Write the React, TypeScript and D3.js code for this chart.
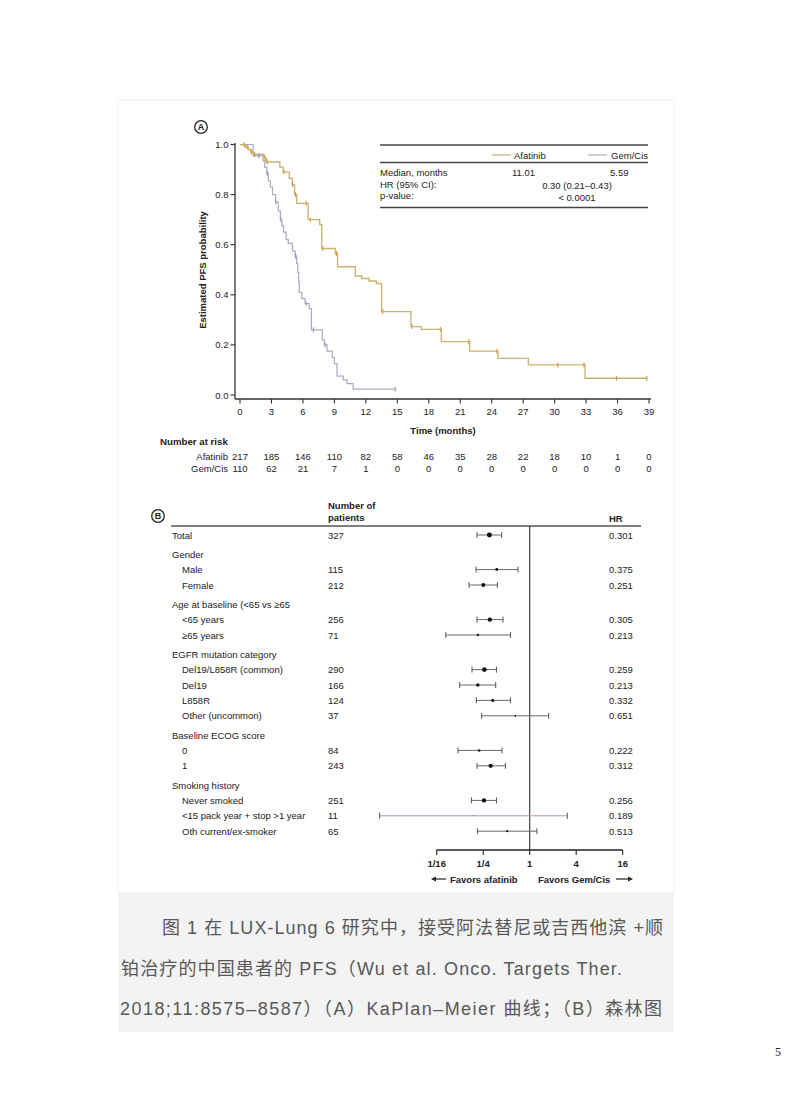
import React from 'react';
import * as d3 from 'd3';

// ---------- Panel A: Kaplan–Meier data ----------
const kmTicksX = [0, 3, 6, 9, 12, 15, 18, 21, 24, 27, 30, 33, 36, 39];
const kmTicksY = [0, 0.2, 0.4, 0.6, 0.8, 1.0];

const afatinibTimes = [0, 0.5, 0.8, 1.0, 1.3, 2.3, 2.5, 3.8, 4.1, 4.7, 5.0, 5.2, 5.4, 6.5, 7.6, 7.8, 9.1, 9.3, 11.0, 11.6, 12.3, 13.0, 13.5, 16.3, 17.3, 19.2, 21.9, 24.6, 27.5, 32.9];
const afatinibSurv = [1, 0.99, 0.98, 0.97, 0.96, 0.945, 0.93, 0.91, 0.89, 0.865, 0.84, 0.8, 0.765, 0.7, 0.68, 0.585, 0.565, 0.512, 0.475, 0.465, 0.455, 0.445, 0.333, 0.273, 0.262, 0.213, 0.175, 0.146, 0.12, 0.067];
const afatinibEnd = 38.8;
const afatinibCensor = [0.4, 0.7, 1.1, 1.4, 2.4, 2.6, 4.2, 5.0, 5.3, 6.3, 6.7, 7.9, 9.2, 13.6, 16.4, 19.1, 21.8, 24.5, 30.3, 32.8, 35.9, 38.8];

const gemTimes = [0, 1.25, 2.2, 2.35, 2.55, 2.7, 2.9, 3.1, 3.4, 3.65, 3.85, 4.0, 4.15, 4.4, 4.6, 5.0, 5.25, 5.4, 5.5, 5.6, 5.65, 5.9, 6.2, 6.6, 6.8, 7.85, 8.05, 8.3, 8.8, 9.0, 9.25, 9.85, 10.2, 10.8];
const gemSurv = [1, 0.955, 0.935, 0.91, 0.885, 0.855, 0.83, 0.8, 0.77, 0.735, 0.7, 0.675, 0.65, 0.62, 0.605, 0.575, 0.555, 0.525, 0.49, 0.45, 0.41, 0.385, 0.365, 0.345, 0.26, 0.22, 0.2, 0.175, 0.15, 0.125, 0.075, 0.06, 0.045, 0.023];
const gemEnd = 14.8;
const gemCensor = [1.8, 2.6, 3.4, 3.9, 5.3, 6.3, 7.0, 8.1, 14.8];

const riskAfatinib = [217, 185, 146, 110, 82, 58, 46, 35, 28, 22, 18, 10, 1, 0];
const riskGem = [110, 62, 21, 7, 1, 0, 0, 0, 0, 0, 0, 0, 0, 0];

// ---------- Panel B: forest plot data ----------
const rowLabels = [
  'Total', 'Gender', 'Male', 'Female', 'Age at baseline (<65 vs ≥65', '<65 years', '≥65 years',
  'EGFR mutation category', 'Del19/L858R (common)', 'Del19', 'L858R', 'Other (uncommon)',
  'Baseline ECOG score', '0', '1', 'Smoking history', 'Never smoked', '<15 pack year + stop >1 year', 'Oth current/ex-smoker',
];
const rowIndent = [false, false, true, true, false, true, true, false, true, true, true, true, false, true, true, false, true, true, true];
const rowN = [327, null, 115, 212, null, 256, 71, null, 290, 166, 124, 37, null, 84, 243, null, 251, 11, 65];
const rowHR = [0.301, null, 0.375, 0.251, null, 0.305, 0.213, null, 0.259, 0.213, 0.332, 0.651, null, 0.222, 0.312, null, 0.256, 0.189, 0.513];
const rowLo = [0.208, null, 0.202, 0.164, null, 0.208, 0.082, null, 0.179, 0.124, 0.204, 0.239, null, 0.118, 0.208, null, 0.176, 0.0114, 0.21];
const rowHi = [0.434, null, 0.706, 0.381, null, 0.451, 0.563, null, 0.371, 0.363, 0.563, 1.76, null, 0.438, 0.485, null, 0.371, 3.07, 1.24];
const forestTicks = [1 / 16, 1 / 4, 1, 4, 16];
const forestTickLabels = ['1/16', '1/4', '1', '4', '16'];

const captionLines = [
  '图 1  在 LUX-Lung 6 研究中，接受阿法替尼或吉西他滨 +顺',
  '铂治疗的中国患者的  PFS（Wu et al. Onco. Targets Ther.',
  '2018;11:8575–8587）（A）KaPlan–Meier 曲线；（B）森林图',
];

const SANS = '"Liberation Sans", Arial, Helvetica, sans-serif';
const CAP = '"Liberation Sans", "Noto Sans CJK SC", sans-serif';
const AFA = '#c9b272';
const AFA_MARK = '#d99a45';
const GEM = '#a9aec6';

function stepValue(times: number[], surv: number[], t: number) {
  let v = surv[0];
  for (let i = 0; i < times.length; i++) if (times[i] <= t) v = surv[i];
  return v;
}

export default function App() {
  const x = d3.scaleLinear().domain([0, 39]).range([240, 649]);
  const y = d3.scaleLinear().domain([0, 1]).range([395, 144.5]);
  const line = d3
    .line<[number, number]>()
    .x((d) => x(d[0]))
    .y((d) => y(d[1]))
    .curve(d3.curveStepAfter);

  const afaPts: [number, number][] = afatinibTimes.map((t, i) => [t, afatinibSurv[i]] as [number, number]);
  afaPts.push([afatinibEnd, afatinibSurv[afatinibSurv.length - 1]]);
  const gemPts: [number, number][] = gemTimes.map((t, i) => [t, gemSurv[i]] as [number, number]);
  gemPts.push([gemEnd, gemSurv[gemSurv.length - 1]]);

  // forest
  const fx = d3.scaleLog().base(2).domain([1 / 16, 16]).range([436.7, 622.7]);
  const rowY: number[] = [];
  let cy = 535;
  rowLabels.forEach((_, i) => {
    if (i > 0) cy += 15.4 + (rowN[i] === null ? 3.8 : 0);
    rowY.push(cy);
  });
  const dotR = (n: number) => 0.138 * Math.sqrt(n);

  const capX = [162, 121, 120];
  const capW = [501, 501, 542];
  const capY = [934, 975, 1015];

  return (
    <svg
      width={792}
      height={1120}
      viewBox="0 0 792 1120"
      style={{ position: 'absolute', left: 0, top: 0, background: '#fff' }}
      fontFamily={SANS}
    >
      <rect x={0} y={0} width={792} height={1120} fill="#fff" />
      {/* figure frame & caption background */}
      <rect x={118} y={100} width={556} height={793} fill="none" stroke="#f1f1f1" strokeWidth={1} />
      <rect x={118} y={893} width={556} height={139} fill="#f3f3f3" />

      {/* ===== Panel A ===== */}
      <g>
        <circle cx={201} cy={127} r={6.3} fill="none" stroke="#222" strokeWidth={1.3} />
        <text x={201} y={127} textAnchor="middle" dominantBaseline="central" fontSize={9} fontWeight="bold" fill="#222">A</text>

        {/* axes */}
        <line x1={235} x2={235} y1={143} y2={399} stroke="#333" strokeWidth={1.3} />
        <line x1={235} x2={651} y1={399} y2={399} stroke="#333" strokeWidth={1.3} />
        {kmTicksY.map((v) => (
          <g key={'yt' + v}>
            <line x1={230.5} x2={235} y1={y(v)} y2={y(v)} stroke="#333" strokeWidth={1.1} />
            <text x={228.5} y={y(v)} textAnchor="end" dominantBaseline="central" fontSize={9.5} fill="#222">
              {v.toFixed(1)}
            </text>
          </g>
        ))}
        {kmTicksX.map((v) => (
          <g key={'xt' + v}>
            <line x1={x(v)} x2={x(v)} y1={399} y2={403.5} stroke="#333" strokeWidth={1.1} />
            <text x={x(v)} y={411.5} textAnchor="middle" dominantBaseline="central" fontSize={9.5} fill="#222">
              {v}
            </text>
          </g>
        ))}
        <text x={443} y={430} textAnchor="middle" dominantBaseline="central" fontSize={9.5} fontWeight="bold" fill="#222">
          Time (months)
        </text>
        <text
          transform={`translate(202,270) rotate(-90)`}
          textAnchor="middle"
          dominantBaseline="central"
          fontSize={9.5}
          fontWeight="bold"
          fill="#222"
        >
          Estimated PFS probability
        </text>

        {/* curves */}
        <path d={line(gemPts) || ''} fill="none" stroke={GEM} strokeWidth={1.25} />
        <path d={line(afaPts) || ''} fill="none" stroke={AFA} strokeWidth={1.35} />
        {gemCensor.map((t, i) => {
          const v = stepValue(gemTimes, gemSurv, t);
          return <line key={'gc' + i} x1={x(t)} x2={x(t)} y1={y(v) - 2.5} y2={y(v) + 2.5} stroke="#9098b4" strokeWidth={1} />;
        })}
        {afatinibCensor.map((t, i) => {
          const v = stepValue(afatinibTimes, afatinibSurv, t);
          return <line key={'ac' + i} x1={x(t)} x2={x(t)} y1={y(v) - 2.5} y2={y(v) + 2.5} stroke={AFA_MARK} strokeWidth={1.1} />;
        })}

        {/* legend box */}
        <line x1={380} x2={648} y1={145} y2={145} stroke="#444" strokeWidth={1.3} />
        <line x1={492} x2={511} y1={155} y2={155} stroke={AFA} strokeWidth={1.2} />
        <text x={514} y={155} dominantBaseline="central" fontSize={9.5} fill="#222">Afatinib</text>
        <line x1={588} x2={607} y1={155} y2={155} stroke={GEM} strokeWidth={1.2} />
        <text x={648} y={155} textAnchor="end" dominantBaseline="central" fontSize={9.5} fill="#222">Gem/Cis</text>
        <line x1={380} x2={648} y1={162.5} y2={162.5} stroke="#444" strokeWidth={1.3} />
        <text x={380} y={172.5} dominantBaseline="central" fontSize={9.5} fill="#222">Median, months</text>
        <text x={512} y={172} dominantBaseline="central" fontSize={9.5} fill="#222">11.01</text>
        <text x={610} y={172} dominantBaseline="central" fontSize={9.5} fill="#222">5.59</text>
        <text x={380} y={184} dominantBaseline="central" fontSize={9.5} fill="#222">HR (95% CI):</text>
        <text x={577} y={185} textAnchor="middle" dominantBaseline="central" fontSize={9.5} fill="#222">0.30 (0.21–0.43)</text>
        <text x={380} y={195.5} dominantBaseline="central" fontSize={9.5} fill="#222">p-value:</text>
        <text x={577} y={197} textAnchor="middle" dominantBaseline="central" fontSize={9.5} fill="#222">&lt; 0.0001</text>
        <line x1={380} x2={648} y1={207.5} y2={207.5} stroke="#444" strokeWidth={1.3} />

        {/* number at risk */}
        <text x={160} y={441} dominantBaseline="central" fontSize={9.7} fontWeight="bold" fill="#222">Number at risk</text>
        <text x={228} y={456} textAnchor="end" dominantBaseline="central" fontSize={9.5} fill="#222">Afatinib</text>
        <text x={228} y={468} textAnchor="end" dominantBaseline="central" fontSize={9.5} fill="#222">Gem/Cis</text>
        {kmTicksX.map((t, i) => (
          <g key={'r' + t}>
            <text x={x(t)} y={456} textAnchor="middle" dominantBaseline="central" fontSize={9.5} fill="#222">{riskAfatinib[i]}</text>
            <text x={x(t)} y={468} textAnchor="middle" dominantBaseline="central" fontSize={9.5} fill="#222">{riskGem[i]}</text>
          </g>
        ))}
      </g>

      {/* ===== Panel B ===== */}
      <g>
        <circle cx={158} cy={516} r={6.3} fill="none" stroke="#222" strokeWidth={1.3} />
        <text x={158} y={516} textAnchor="middle" dominantBaseline="central" fontSize={9} fontWeight="bold" fill="#222">B</text>
        <text x={328} y={505.5} dominantBaseline="central" fontSize={9.5} fontWeight="bold" fill="#222">Number of</text>
        <text x={328} y={517.5} dominantBaseline="central" fontSize={9.5} fontWeight="bold" fill="#222">patients</text>
        <text x={609} y={518} dominantBaseline="central" fontSize={9.5} fontWeight="bold" fill="#222">HR</text>
        <line x1={171} x2={641} y1={526} y2={526} stroke="#555" strokeWidth={1.5} />
        <line x1={fx(1)} x2={fx(1)} y1={526} y2={850} stroke="#333" strokeWidth={1.1} />

        {rowLabels.map((lab, i) => (
          <g key={'row' + i}>
            <text x={rowIndent[i] ? 182 : 172} y={rowY[i]} dominantBaseline="central" fontSize={9.5} fill="#222">{lab}</text>
            {rowN[i] !== null && (
              <text x={328} y={rowY[i]} dominantBaseline="central" fontSize={9.5} fill="#222">{rowN[i]}</text>
            )}
            {rowHR[i] !== null && (
              <text x={609} y={rowY[i]} dominantBaseline="central" fontSize={9.5} fill="#222">{(rowHR[i] as number).toFixed(3)}</text>
            )}
            {rowHR[i] !== null && (
              <g>
                <line
                  x1={fx(rowLo[i] as number)}
                  x2={fx(rowHi[i] as number)}
                  y1={rowY[i]}
                  y2={rowY[i]}
                  stroke={i === 17 ? '#c99898' : '#6a6a6a'}
                  strokeWidth={1}
                />
                <line x1={fx(rowLo[i] as number)} x2={fx(rowLo[i] as number)} y1={rowY[i] - 3} y2={rowY[i] + 3} stroke="#555" strokeWidth={1} />
                <line x1={fx(rowHi[i] as number)} x2={fx(rowHi[i] as number)} y1={rowY[i] - 3} y2={rowY[i] + 3} stroke="#555" strokeWidth={1} />
                <circle cx={fx(rowHR[i] as number)} cy={rowY[i]} r={dotR(rowN[i] as number)} fill="#111" />
              </g>
            )}
          </g>
        ))}

        {/* forest axis */}
        <line x1={fx(1 / 16)} x2={fx(16)} y1={850} y2={850} stroke="#222" strokeWidth={1.3} />
        {forestTicks.map((v, i) => (
          <g key={'ft' + i}>
            <line x1={fx(v)} x2={fx(v)} y1={850} y2={855} stroke="#222" strokeWidth={1.1} />
            <text x={fx(v)} y={863.5} textAnchor="middle" dominantBaseline="central" fontSize={9.5} fontWeight="bold" fill="#222">
              {forestTickLabels[i]}
            </text>
          </g>
        ))}
        <line x1={433} x2={446} y1={879} y2={879} stroke="#222" strokeWidth={1.2} />
        <path d="M431,879 L436,876.5 L436,881.5 Z" fill="#222" />
        <text x={450} y={879} dominantBaseline="central" fontSize={9.5} fontWeight="bold" fill="#222">Favors afatinib</text>
        <text x={538} y={879} dominantBaseline="central" fontSize={9.5} fontWeight="bold" fill="#222">Favors Gem/Cis</text>
        <line x1={616} x2={630} y1={879} y2={879} stroke="#222" strokeWidth={1.2} />
        <path d="M633,879 L628,876.5 L628,881.5 Z" fill="#222" />
      </g>

      {/* caption */}
      <g fontFamily={CAP} fontSize={18} fill="#585858">
        {captionLines.map((c, i) => (
          <text key={'cap' + i} x={capX[i]} y={capY[i]} textLength={capW[i]} lengthAdjust="spacing">
            {c}
          </text>
        ))}
      </g>

      <text x={775} y={1056} fontFamily='"Liberation Serif", serif' fontSize={12} fill="#222">5</text>
    </svg>
  );
}
